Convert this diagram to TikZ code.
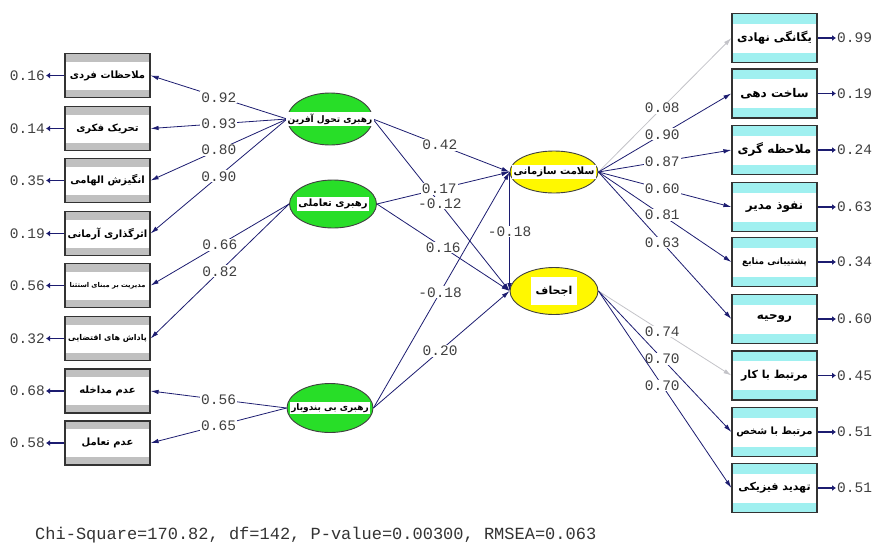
\documentclass[tikz,border=0pt]{standalone}
\usepackage{fontspec}
\usetikzlibrary{arrows.meta,shapes.geometric}
\TeXXeTstate=1
\newfontfamily\fa[Script=Arabic]{DejaVu Sans}
\setmonofont{Liberation Mono}
\newcommand\fasz[1]{\fontsize{#1}{#1}\selectfont\fa\bfseries}
\definecolor{navy}{RGB}{28,28,112}
\definecolor{bandgray}{RGB}{192,192,192}
\definecolor{bandcyan}{RGB}{160,240,240}
\definecolor{latgreen}{RGB}{40,222,40}
\definecolor{latyellow}{RGB}{255,248,0}
\definecolor{nsgray}{RGB}{195,195,200}
\begin{document}
\begin{tikzpicture}[x=1pt,y=-1pt,
  lbox/.style={draw=black!80, line width=1.2pt, fill=white, minimum width=85pt, minimum height=44pt, inner sep=0pt,
    path picture={\fill[bandgray] (path picture bounding box.north west) rectangle ([yshift=-8pt]path picture bounding box.north east);
                  \fill[bandgray] (path picture bounding box.south west) rectangle ([yshift=8pt]path picture bounding box.south east);}},
  rbox/.style={draw=black!80, line width=1.2pt, fill=white, minimum width=85pt, minimum height=49pt, inner sep=0pt,
    path picture={\fill[bandcyan] (path picture bounding box.north west) rectangle ([yshift=-10pt]path picture bounding box.north east);
                  \fill[bandcyan] (path picture bounding box.south west) rectangle ([yshift=10pt]path picture bounding box.south east);}},
  lat/.style={ellipse, draw=black!75, line width=0.9pt, fill=latgreen, inner sep=0pt},
  endo/.style={ellipse, draw=black!75, line width=0.9pt, fill=latyellow, inner sep=0pt},
  tlab/.style={fill=white, inner sep=1.5pt},
  errl/.style={font=\ttfamily\fontsize{14.5}{14.5}\selectfont, text=black!75, inner sep=1pt},
  coef/.style={font=\ttfamily\fontsize{14.5}{14.5}\selectfont, text=black!75, fill=white, inner sep=1pt},
  path/.style={draw=navy, line width=0.8pt, -{Latex[length=8pt,width=4.5pt]}},
  nspath/.style={draw=nsgray, line width=0.8pt, -{Latex[length=8pt,width=4.5pt]}},
  errarr/.style={draw=navy, line width=1.6pt, -{Latex[length=4pt,width=6pt]}}
]
\useasboundingbox (0,0) rectangle (872,544);

% ---------- left indicator boxes
\node[lbox] (L1) at (107.5,75.5) {\fasz{10}\beginR ملاحظات فردی\endR};
\node[lbox] (L2) at (107.5,128.5) {\fasz{10}\beginR تحریک فکری\endR};
\node[lbox] (L3) at (107.5,180.5) {\fasz{10}\beginR انگیزش الهامی\endR};
\node[lbox] (L4) at (107.5,233.5) {\fasz{10}\beginR اثرگذاری آرمانی\endR};
\node[lbox] (L5) at (107.5,285.5) {\fasz{6.7}\beginR مدیریت بر مبنای استثنا\endR};
\node[lbox] (L6) at (107.5,338.5) {\fasz{8}\beginR پاداش های اقتضایی\endR};
\node[lbox] (L7) at (107.5,391) {\fasz{10}\beginR عدم مداخله\endR};
\node[lbox] (L8) at (107.5,443) {\fasz{10}\beginR عدم تعامل\endR};

% left error terms
\node[errl, anchor=east] (eL1) at (46,75.5) {0.16};
\node[errl, anchor=east] (eL2) at (46,128.5) {0.14};
\node[errl, anchor=east] (eL3) at (46,180.5) {0.35};
\node[errl, anchor=east] (eL4) at (46,233.5) {0.19};
\node[errl, anchor=east] (eL5) at (46,285.5) {0.56};
\node[errl, anchor=east] (eL6) at (46,338.5) {0.32};
\node[errl, anchor=east] (eL7) at (46,391) {0.68};
\node[errl, anchor=east] (eL8) at (46,443) {0.58};
\foreach \i in {1,...,8} {\draw[errarr] (L\i.west) -- (eL\i.east);}

% ---------- right indicator boxes
\node[rbox] (R1) at (774.5,38) {\fasz{11.5}\beginR یگانگی نهادی\endR};
\node[rbox] (R2) at (774.5,93.5) {\fasz{12}\beginR ساخت دهی\endR};
\node[rbox] (R3) at (774.5,150) {\fasz{12}\beginR ملاحظه گری\endR};
\node[rbox] (R4) at (774.5,207) {\fasz{12}\beginR نفوذ مدیر\endR};
\node[rbox] (R5) at (774.5,262) {\fasz{9}\beginR پشتیبانی منابع\endR};
\node[rbox] (R6) at (774.5,319) {\fasz{12}\beginR روحیه\endR};
\node[rbox] (R7) at (774.5,375.5) {\fasz{11}\beginR مرتبط با کار\endR};
\node[rbox] (R8) at (774.5,432) {\fasz{10}\beginR مرتبط با شخص\endR};
\node[rbox] (R9) at (774.5,488) {\fasz{11}\beginR تهدید فیزیکی\endR};

\node[errl, anchor=west] (eR1) at (836,38) {0.99};
\node[errl, anchor=west] (eR2) at (836,93.5) {0.19};
\node[errl, anchor=west] (eR3) at (836,150) {0.24};
\node[errl, anchor=west] (eR4) at (836,207) {0.63};
\node[errl, anchor=west] (eR5) at (836,262) {0.34};
\node[errl, anchor=west] (eR6) at (836,319) {0.60};
\node[errl, anchor=west] (eR7) at (836,375.5) {0.45};
\node[errl, anchor=west] (eR8) at (836,432) {0.51};
\node[errl, anchor=west] (eR9) at (836,488) {0.51};
\foreach \i in {1,...,9} {\draw[errarr] (R\i.east) -- (eR\i.west);}

% ---------- latent variables
\node[lat, minimum width=85pt, minimum height=52pt] (E1) at (330,119) {};
\node[lat, minimum width=87pt, minimum height=48pt] (E2) at (333,204) {};
\node[lat, minimum width=86pt, minimum height=49pt] (E3) at (330,408) {};
\node[endo, minimum width=88pt, minimum height=42pt] (Y1) at (554,172) {};
\node[endo, minimum width=88pt, minimum height=47pt] (Y2) at (554,291) {};

% ---------- measurement paths (left)
\draw[path] (E1.west) -- node[coef, pos=0.5] {0.92} (L1.east);
\draw[path] (E1.west) -- node[coef, pos=0.5] {0.93} (L2.east);
\draw[path] (E1.west) -- node[coef, pos=0.5] {0.80} (L3.east);
\draw[path] (E1.west) -- node[coef, pos=0.5] {0.90} (L4.east);
\draw[path] (E2.west) -- node[coef, pos=0.5] {0.66} (L5.east);
\draw[path] (E2.west) -- node[coef, pos=0.5] {0.82} (L6.east);
\draw[path] (E3.west) -- node[coef, pos=0.5] {0.56} (L7.east);
\draw[path] (E3.west) -- node[coef, pos=0.5] {0.65} (L8.east);

% ---------- structural paths
\draw[path] (E1.east) -- node[coef, pos=0.49] {0.42} (Y1.west);
\draw[path] (E1.east) -- node[coef, pos=0.49] {-0.12} (Y2.west);
\draw[path] (E2.east) -- node[coef, pos=0.47] {0.17} (Y1.west);
\draw[path] (E2.east) -- node[coef, pos=0.5] {0.16} (Y2.west);
\draw[path] (E3.east) -- node[coef, pos=0.49] {-0.18} (Y1.west);
\draw[path] (E3.east) -- node[coef, pos=0.49] {0.20} (Y2.west);
\draw[path] (Y1.west) -- node[coef, pos=0.5] {-0.18} (Y2.west);

% ---------- measurement paths (right)
\draw[nspath] (Y1.east) -- node[coef, pos=0.48] {0.08} (R1.west);
\draw[path] (Y1.east) -- node[coef, pos=0.48] {0.90} (R2.west);
\draw[path] (Y1.east) -- node[coef, pos=0.48] {0.87} (R3.west);
\draw[path] (Y1.east) -- node[coef, pos=0.48] {0.60} (R4.west);
\draw[path] (Y1.east) -- node[coef, pos=0.48] {0.81} (R5.west);
\draw[path] (Y1.east) -- node[coef, pos=0.48] {0.63} (R6.west);
\draw[nspath] (Y2.east) -- node[coef, pos=0.48] {0.74} (R7.west);
\draw[path] (Y2.east) -- node[coef, pos=0.48] {0.70} (R8.west);
\draw[path] (Y2.east) -- node[coef, pos=0.48] {0.70} (R9.west);

% ---------- latent labels
\node[tlab] (E1t) at (E1) {\fasz{9}\beginR رهبری تحول آفرین\endR};
\node[tlab] (E2t) at (E2) {\fasz{10}\beginR رهبری تعاملی\endR};
\node[tlab] (E3t) at (E3) {\fasz{9}\beginR رهبری بی بندوبار\endR};
\node[tlab] (Y1t) at (Y1) {\fasz{10}\beginR سلامت سازمانی\endR};
\node[tlab, minimum width=46pt, minimum height=28pt] (Y2t) at (Y2) {\fasz{11}\beginR اجحاف\endR};

% ---------- fit statistics
\node[anchor=west, inner sep=0pt, font=\ttfamily\fontsize{17}{17}\selectfont, text=black!80] (fit) at (35,535)
  {Chi-Square=170.82, df=142, P-value=0.00300, RMSEA=0.063};
\end{tikzpicture}
\end{document}
